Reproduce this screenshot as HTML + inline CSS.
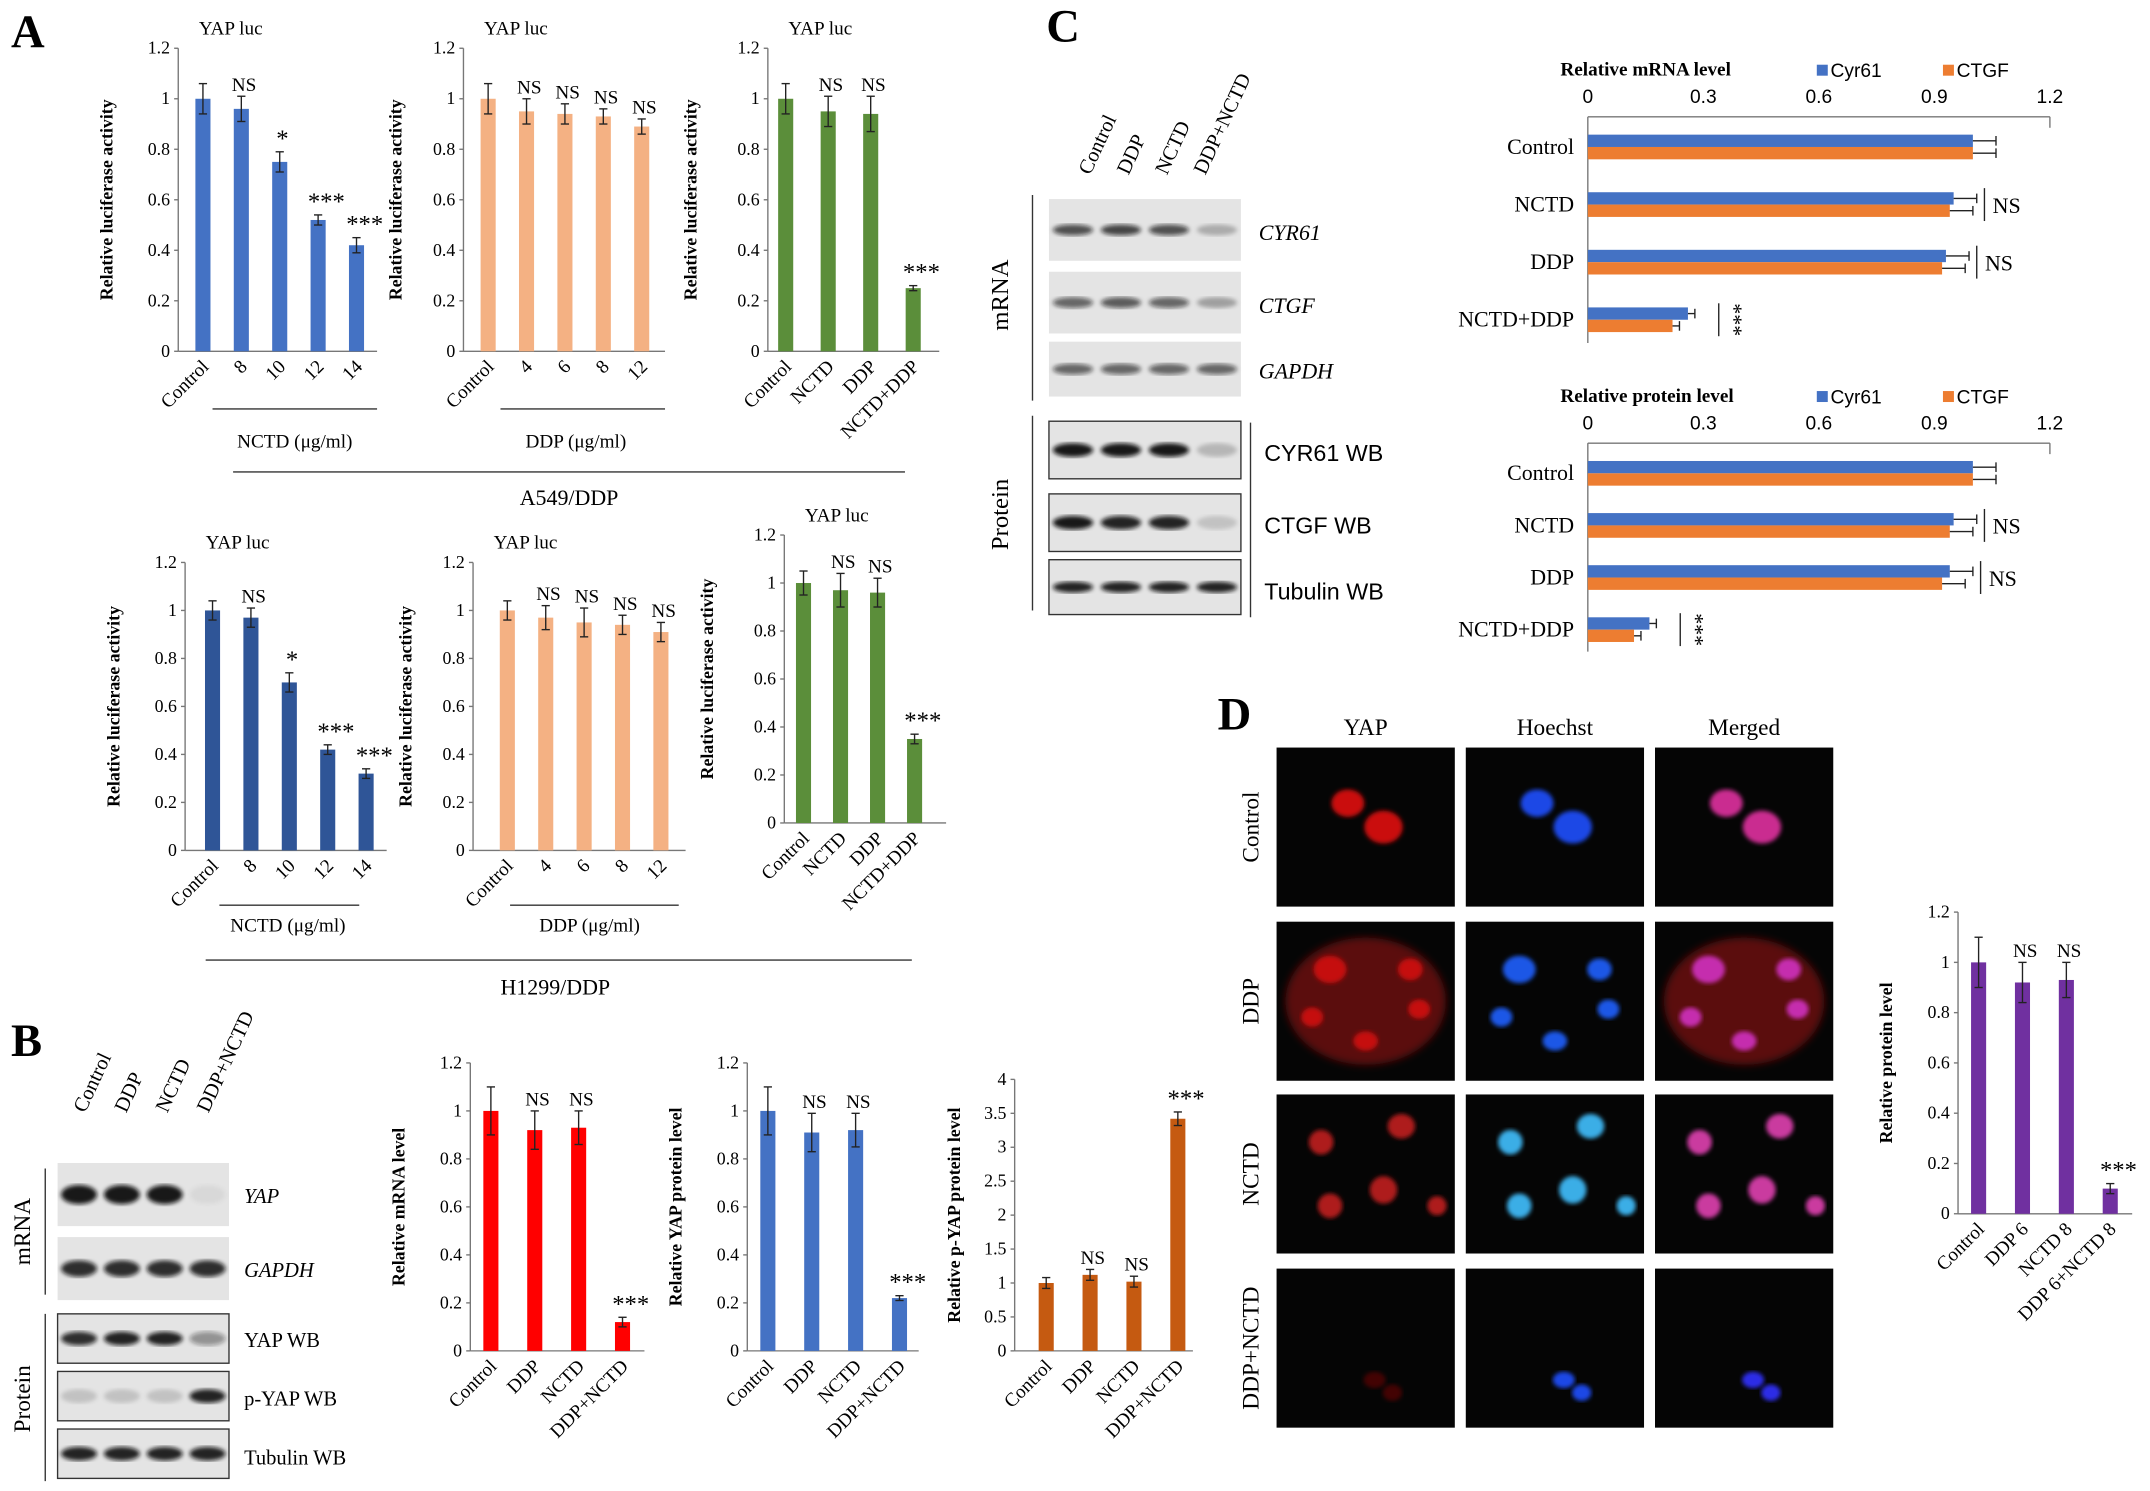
<!DOCTYPE html>
<html><head><meta charset="utf-8"><style>
html,body{margin:0;padding:0;background:#fff;}
svg{display:block;font-family:"Liberation Serif",serif;}
</style></head><body>
<svg id="fig" width="2150" height="1491" viewBox="0 0 1568 1087" xmlns="http://www.w3.org/2000/svg">
<defs>
<filter id="blur1"><feGaussianBlur stdDeviation="1.5"/></filter>
<filter id="blur3"><feGaussianBlur stdDeviation="3"/></filter>
</defs>
<g id="root"></g>
</svg>
<script>
// ---- data ----
const catsA1=["Control","8","10","12","14"];
const valsA1=[1,0.96,0.75,0.52,0.42];
const errsA1=[0.06,0.05,0.04,0.02,0.03];
const sigA1=["","NS","*","***","***"];
const catsA2=["Control","4","6","8","12"];
const valsA2=[1,0.95,0.94,0.93,0.89];
const errsA2=[0.06,0.05,0.04,0.03,0.03];
const sigA2=["","NS","NS","NS","NS"];
const catsA3=["Control","NCTD","DDP","NCTD+DDP"];
const valsA3=[1,0.95,0.94,0.25];
const errsA3=[0.06,0.06,0.07,0.01];
const sigA3=["","NS","NS","***"];
const valsA4=[1,0.97,0.70,0.42,0.32];
const errsA4=[0.04,0.04,0.04,0.02,0.02];
const sigA4=["","NS","*","***","***"];
const valsA5=[1,0.97,0.95,0.94,0.91];
const errsA5=[0.04,0.05,0.06,0.04,0.04];
const sigA5=["","NS","NS","NS","NS"];
const valsA6=[1,0.97,0.96,0.35];
const errsA6=[0.05,0.07,0.06,0.02];
const sigA6=["","NS","NS","***"];
const catsB=["Control","DDP","NCTD","DDP+NCTD"];
const valsB1=[1,0.92,0.93,0.12];
const errsB1=[0.1,0.08,0.07,0.02];
const valsB2=[1,0.91,0.92,0.22];
const errsB2=[0.1,0.08,0.07,0.01];
const valsB3=[1,1.12,1.02,3.42];
const errsB3=[0.08,0.08,0.08,0.1];
const sigB=["","NS","NS","***"];
const catsD=["Control","DDP 6","NCTD 8","DDP 6+NCTD 8"];
const valsD=[1,0.92,0.93,0.1];
const errsD=[0.1,0.08,0.07,0.02];
const catsC=["Control","NCTD","DDP","NCTD+DDP"];
const cyr61mRNA=[1,0.95,0.93,0.26];
const ctgfmRNA=[1,0.94,0.92,0.22];
const cyr61Prot=[1,0.95,0.94,0.16];
const ctgfProt=[1,0.94,0.92,0.12];
const sigC=["","NS","NS","***"];

const NS="http://www.w3.org/2000/svg";
const root=document.getElementById('root');
function el(tag,attrs,parent,text){const e=document.createElementNS(NS,tag);for(const k in attrs)e.setAttribute(k,attrs[k]);if(text!==undefined)e.textContent=text;(parent||root).appendChild(e);return e;}

function vchart(c){
  const g=el('g',{});
  
  
  const ys=v=>c.y0-(v/c.max)*(c.y0-c.yTop);
  const xs=i=>c.x0+c.off+i*c.sp;
  el('line',{x1:c.x0,y1:c.y0,x2:c.x0,y2:c.yTop,stroke:'#777','stroke-width':1},g);
  el('line',{x1:c.x0,y1:c.y0,x2:c.x1,y2:c.y0,stroke:'#777','stroke-width':1},g);
  for(let t=0;t<=c.max+1e-9;t+=c.step){
    const lab=Math.round(t*10)/10;
    const tk=el('text',{x:c.x0-6,y:ys(t)+4,'font-size':13,'text-anchor':'end'},g,String(lab));
    
    
    el('line',{x1:c.x0-3,y1:ys(t),x2:c.x0,y2:ys(t),stroke:'#777'},g);
  }
  c.vals.forEach((v,i)=>{
    const x=xs(i);
    const b=el('rect',{x:x-c.bw/2,y:ys(v),width:c.bw,height:c.y0-ys(v),fill:c.color},g);
    
    
    const e=c.errs[i];
    el('line',{x1:x,y1:ys(v+e),x2:x,y2:ys(v-e),stroke:'#222'},g);
    el('line',{x1:x-3,y1:ys(v+e),x2:x+3,y2:ys(v+e),stroke:'#222'},g);
    el('line',{x1:x-3,y1:ys(v-e),x2:x+3,y2:ys(v-e),stroke:'#222'},g);
    if(c.sig[i]){const s=el('text',{x:x+(c.sig[i]==='***'?6:2),y:ys(v+e)-4,'font-size':c.sig[i]==='NS'?14:18,'text-anchor':'middle'},g,c.sig[i]);
      
      }
    const l=el('text',{x:x+5,y:c.y0+12,'font-size':14,'text-anchor':'end',transform:`rotate(-45 ${x+5} ${c.y0+12})`},g,c.cats[i]);
    
    
  });
  const ty=(c.y0+c.yTop)/2, tx=c.x0-c.tOff;
  const t=el('text',{x:tx,y:ty,'font-size':13,'font-weight':'bold','text-anchor':'middle',transform:`rotate(-90 ${tx} ${ty})`},g,c.title);
  
  
  if(c.top){const tt=el('text',{x:c.x0+15,y:c.yTop-10,'font-size':14},g,c.top);
    
    }
}
const blue='#4472C4',orange='#F4B183',green='#5B8E3A',dblue='#2F5597';
const RLA='Relative luciferase activity';
vchart({name:'chart-a549-nctd',x0:130,x1:275,y0:256,yTop:35,max:1.2,step:0.2,off:18,sp:28,bw:11,color:blue,vals:valsA1,errs:errsA1,sig:sigA1,cats:catsA1,title:RLA,tOff:48,top:'YAP luc'});
vchart({name:'chart-a549-ddp',x0:338,x1:485,y0:256,yTop:35,max:1.2,step:0.2,off:18,sp:28,bw:11,color:orange,vals:valsA2,errs:errsA2,sig:sigA2,cats:catsA2,title:RLA,tOff:45,top:'YAP luc'});
vchart({name:'chart-a549-combo',x0:560,x1:685,y0:256,yTop:35,max:1.2,step:0.2,off:13,sp:31,bw:11,color:green,vals:valsA3,errs:errsA3,sig:sigA3,cats:catsA3,title:RLA,tOff:52,top:'YAP luc'});
vchart({name:'chart-h1299-nctd',x0:135,x1:282,y0:620,yTop:410,max:1.2,step:0.2,off:20,sp:28,bw:11,color:dblue,vals:valsA4,errs:errsA4,sig:sigA4,cats:catsA1,title:RLA,tOff:48,top:'YAP luc'});
vchart({name:'chart-h1299-ddp',x0:345,x1:500,y0:620,yTop:410,max:1.2,step:0.2,off:25,sp:28,bw:11,color:orange,vals:valsA5,errs:errsA5,sig:sigA5,cats:catsA2,title:RLA,tOff:45,top:'YAP luc'});
vchart({name:'chart-h1299-combo',x0:572,x1:690,y0:600,yTop:390,max:1.2,step:0.2,off:14,sp:27,bw:11,color:green,vals:valsA6,errs:errsA6,sig:sigA6,cats:catsA3,title:RLA,tOff:52,top:'YAP luc'});
vchart({name:'chart-yap-mrna',x0:343,x1:470,y0:985,yTop:775,max:1.2,step:0.2,off:15,sp:32,bw:11,color:'#FF0000',vals:valsB1,errs:errsB1,sig:sigB,cats:catsB,title:'Relative mRNA level',tOff:48});
vchart({name:'chart-yap-protein',x0:545,x1:670,y0:985,yTop:775,max:1.2,step:0.2,off:15,sp:32,bw:11,color:blue,vals:valsB2,errs:errsB2,sig:sigB,cats:catsB,title:'Relative YAP protein level',tOff:48});
vchart({name:'chart-pyap-protein',x0:740,x1:870,y0:985,yTop:787,max:4,step:0.5,off:23,sp:32,bw:11,color:'#C55A11',vals:valsB3,errs:errsB3,sig:sigB,cats:catsB,title:'Relative p-YAP protein level',tOff:40});
vchart({name:'chart-d-protein',x0:1428,x1:1555,y0:885,yTop:665,max:1.2,step:0.2,off:15,sp:32,bw:11,color:'#7030A0',vals:valsD,errs:errsD,sig:sigB,cats:catsD,title:'Relative protein level',tOff:48});

// group labels
function txt(x,y,s,size,name,extra){const t=el('text',Object.assign({x:x,y:y,'font-size':size},extra||{}),root,s);
  
  return t;}
el('line',{x1:155,y1:298,x2:275,y2:298,stroke:'#333'});
txt(215,326,'NCTD (μg/ml)',14,'x-group-label',{'text-anchor':'middle'});
el('line',{x1:365,y1:298,x2:485,y2:298,stroke:'#333'});
txt(420,326,'DDP (μg/ml)',14,'x-group-label',{'text-anchor':'middle'});
el('line',{x1:170,y1:344,x2:660,y2:344,stroke:'#333'});
txt(415,368,'A549/DDP',16,'cell-line-label',{'text-anchor':'middle'});
el('line',{x1:160,y1:660,x2:262,y2:660,stroke:'#333'});
txt(210,679,'NCTD (μg/ml)',14,'x-group-label',{'text-anchor':'middle'});
el('line',{x1:372,y1:660,x2:495,y2:660,stroke:'#333'});
txt(430,679,'DDP (μg/ml)',14,'x-group-label',{'text-anchor':'middle'});
el('line',{x1:150,y1:700,x2:665,y2:700,stroke:'#333'});
txt(405,725,'H1299/DDP',16,'cell-line-label',{'text-anchor':'middle'});

txt(8,34,'A',34,'panel-label-a',{'font-weight':'bold'});
txt(8,770,'B',34,'panel-label-b',{'font-weight':'bold'});
txt(763,30,'C',34,'panel-label-c',{'font-weight':'bold'});
txt(888,532,'D',34,'panel-label-d',{'font-weight':'bold'});

// blots
function blot(x,y,w,h,ints,thick,name,box){
  const g=el('g',{});
  
  
  el('rect',{x:x,y:y,width:w,height:h,fill:'#e4e4e4',stroke:box?'#333':'none'},g);
  const n=ints.length,lw=w/n;
  ints.forEach((a,i)=>{el('ellipse',{cx:x+lw*(i+0.5),cy:y+h/2,rx:lw*0.42,ry:thick,fill:'#111','fill-opacity':a,filter:'url(#blur1)'},g);});
}
function lanes(x,y,labels,sp){labels.forEach((s,i)=>{const lx=x+i*sp;txt(lx,y,s,15,'lane-label',{transform:`rotate(-65 ${lx} ${y})`});});}
// B blots
lanes(62,812,['Control','DDP','NCTD','DDP+NCTD'],30);
blot(42,848,125,46,[0.95,0.95,0.95,0.05],7,'blot-yap-mrna');
blot(42,902,125,46,[0.85,0.85,0.85,0.85],6,'blot-gapdh-mrna');
blot(42,958,125,36,[0.85,0.9,0.9,0.4],5,'blot-yap-wb',true);
blot(42,1000,125,36,[0.15,0.15,0.15,0.9],5,'blot-pyap-wb',true);
blot(42,1042,125,36,[0.9,0.9,0.9,0.9],5,'blot-tubulin-wb',true);
txt(178,877,'YAP',15,'blot-label',{'font-style':'italic'});
txt(178,931,'GAPDH',15,'blot-label',{'font-style':'italic'});
txt(178,982,'YAP WB',15,'blot-label');
txt(178,1025,'p-YAP WB',15,'blot-label');
txt(178,1068,'Tubulin WB',15,'blot-label');
el('line',{x1:33,y1:852,x2:33,y2:944,stroke:'#333'});
el('line',{x1:33,y1:958,x2:33,y2:1080,stroke:'#333'});
txt(22,898,'mRNA',17,'row-label',{'text-anchor':'middle',transform:'rotate(-90 22 898)'});
txt(22,1020,'Protein',17,'row-label',{'text-anchor':'middle',transform:'rotate(-90 22 1020)'});
// C blots
lanes(795,128,['Control','DDP','NCTD','DDP+NCTD'],28);
blot(765,145,140,45,[0.7,0.75,0.7,0.25],4,'blot-cyr61-mrna');
blot(765,198,140,45,[0.6,0.65,0.6,0.3],4,'blot-ctgf-mrna');
blot(765,249,140,40,[0.6,0.6,0.6,0.6],4,'blot-gapdh-c');
blot(765,307,140,42,[0.95,0.95,0.95,0.2],5,'blot-cyr61-wb',true);
blot(765,360,140,42,[0.95,0.9,0.9,0.15],5,'blot-ctgf-wb',true);
blot(765,408,140,40,[0.9,0.9,0.9,0.9],4,'blot-tubulin-c',true);
txt(918,175,'CYR61',16,'blot-label',{'font-style':'italic'});
txt(918,228,'CTGF',16,'blot-label',{'font-style':'italic'});
txt(918,276,'GAPDH',16,'blot-label',{'font-style':'italic'});
txt(922,336,'CYR61 WB',17,'blot-label',{'font-family':'Liberation Sans'});
txt(922,389,'CTGF WB',17,'blot-label',{'font-family':'Liberation Sans'});
txt(922,437,'Tubulin  WB',17,'blot-label',{'font-family':'Liberation Sans'});
el('line',{x1:912,y1:308,x2:912,y2:450,stroke:'#333'});
el('line',{x1:753,y1:142,x2:753,y2:292,stroke:'#333'});
el('line',{x1:753,y1:303,x2:753,y2:445,stroke:'#333'});
txt(735,215,'mRNA',18,'row-label',{'text-anchor':'middle',transform:'rotate(-90 735 215)'});
txt(735,375,'Protein',18,'row-label',{'text-anchor':'middle',transform:'rotate(-90 735 375)'});

// horizontal charts
function hchart(c){
  const g=el('g',{});
  
  
  const xs=v=>c.x0+(v/1.2)*(c.x1-c.x0);
  el('line',{x1:c.x0,y1:c.ya,x2:c.x1,y2:c.ya,stroke:'#777'},g);
  el('line',{x1:c.x0,y1:c.ya,x2:c.x0,y2:c.yb,stroke:'#777'},g);
  el('line',{x1:c.x1,y1:c.ya,x2:c.x1,y2:c.ya+8,stroke:'#777'},g);
  [0,0.3,0.6,0.9,1.2].forEach(t=>{const tk=el('text',{x:xs(t),y:c.ya-10,'font-size':14,'text-anchor':'middle','font-family':'Liberation Sans'},g,String(t));
    
    });
  const tt=el('text',{x:c.x0-20,y:c.ya-30,'font-size':14,'font-weight':'bold'},g,c.title);
  
  
  [['Cyr61',blue,1325],['CTGF','#ED7D31',1417]].forEach(([n,col,lx])=>{
    const r=el('rect',{x:lx,y:c.ya-38,width:8,height:8,fill:col},g);
    
    
    const t=el('text',{x:lx+10,y:c.ya-29,'font-size':14,'font-family':'Liberation Sans'},g,n);
    
    });
  c.cats.forEach((cat,i)=>{
    const y=c.ya+c.off+i*c.sp;
    [[c.a,blue,-9],[c.b,'#ED7D31',0]].forEach(([arr,col,dy])=>{
      const v=arr[i];
      const b=el('rect',{x:c.x0,y:y+dy,width:xs(v)-c.x0,height:9,fill:col},g);
      
      
      const e=0.06*(i<3?1:0.3);
      el('line',{x1:xs(v),y1:y+dy+4.5,x2:xs(v+e),y2:y+dy+4.5,stroke:'#222'},g);
      el('line',{x1:xs(v+e),y1:y+dy+1,x2:xs(v+e),y2:y+dy+8,stroke:'#222'},g);
    });
    const l=el('text',{x:c.x0-10,y:y+5,'font-size':16,'text-anchor':'end'},g,cat);
    
    
    if(c.sig[i]){const sx=xs(Math.max(c.a[i],c.b[i])+0.08);
      el('line',{x1:sx,y1:y-12,x2:sx,y2:y+12,stroke:'#222'},g);
      const s=c.sig[i]==='NS'?el('text',{x:sx+6,y:y+6,'font-size':16},g,'NS'):el('text',{x:sx+6,y:y,'font-size':16,transform:`rotate(90 ${sx+6} ${y})`,'text-anchor':'middle'},g,'***');
      
      }
  });
}
hchart({name:'chart-c-mrna',x0:1158,x1:1495,ya:85,yb:250,off:22,sp:42,cats:catsC,a:cyr61mRNA,b:ctgfmRNA,sig:sigC,title:'Relative mRNA level'});
hchart({name:'chart-c-protein',x0:1158,x1:1495,ya:323,yb:475,off:22,sp:38,cats:catsC,a:cyr61Prot,b:ctgfProt,sig:sigC,title:'Relative protein  level'});

// D images
const colX=[931,1069,1207],rowY=[545,672,798,925],W=130,H=116;
['YAP','Hoechst','Merged'].forEach((s,i)=>txt(colX[i]+W/2,536,s,17,'column-label',{'text-anchor':'middle'}));
['Control','DDP','NCTD','DDP+NCTD'].forEach((s,i)=>{const ty=rowY[i]+H/2;txt(918,ty,s,17,'row-label',{'text-anchor':'middle',transform:`rotate(-90 918 ${ty})`});});
const cells=[
 [[0.4,0.35,12,10],[0.6,0.5,14,12]],
 [[0.3,0.3,12,10],[0.2,0.6,8,7],[0.5,0.75,9,7],[0.75,0.3,9,8],[0.8,0.55,8,7]],
 [[0.25,0.3,9,9],[0.7,0.2,10,9],[0.3,0.7,9,9],[0.6,0.6,10,10],[0.9,0.7,7,7]],
 [[0.55,0.7,8,6],[0.65,0.78,7,6]]];
const cols=[['#e01010','#d01010','#c02020','#a01010'],['#2050ff','#2060ff','#40c0ff','#2050ff'],['#e030a0','#d030c0','#e040b0','#3030ff']];
rowY.forEach((y,r)=>colX.forEach((x,c)=>{
  const g=el('g',{});
  
  
  el('rect',{x:x,y:y,width:W,height:H,fill:'#050505'},g);
  if(r===1&&c!==1) el('ellipse',{cx:x+W*0.5,cy:y+H*0.5,rx:W*0.45,ry:H*0.4,fill:'#701010',filter:'url(#blur3)','fill-opacity':0.8},g);
  cells[r].forEach(([fx,fy,rx,ry])=>el('ellipse',{cx:x+fx*W,cy:y+fy*H,rx:rx,ry:ry,fill:cols[c][r],filter:'url(#blur1)','fill-opacity':r===3&&c===0?0.4:0.9},g));
}));
</script>
</body></html>
